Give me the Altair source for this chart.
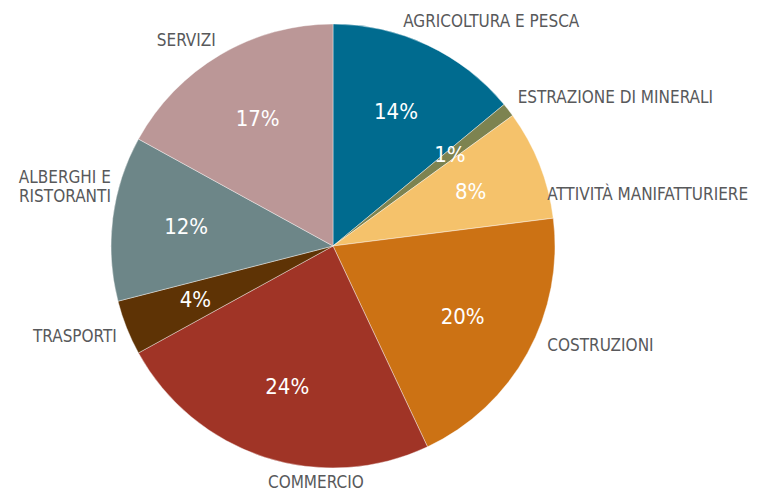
import altair as alt
import pandas as pd

categories = ["AGRICOLTURA E PESCA", "ESTRAZIONE DI MINERALI", "ATTIVITÀ MANIFATTURIERE",
              "COSTRUZIONI", "COMMERCIO", "TRASPORTI", "ALBERGHI E\nRISTORANTI", "SERVIZI"]
values = [14, 1, 8, 20, 24, 4, 12, 17]
colors = ["#006b8f", "#7d8350", "#f5c26b", "#cc7214", "#a03426", "#5e3305", "#6d8688", "#bb9797"]

df = pd.DataFrame({
    "cat": categories,
    "val": values,
    "order": list(range(len(categories))),
    "pct": [f"{v}%" for v in values],
})

FONT = "DejaVu Sans Condensed, Liberation Sans Narrow, Roboto Condensed, Noto Sans, sans-serif"
CX, CY = 325, 238
TSCALE = alt.Scale(domain=[0, 100])

pie = alt.Chart(df).mark_arc(outerRadius=222, stroke="#ffffff", strokeWidth=0.4).encode(
    theta=alt.Theta("val:Q", stack=True, scale=TSCALE),
    order=alt.Order("order:Q"),
    color=alt.Color("cat:N", scale=alt.Scale(domain=categories, range=colors), legend=None),
    x=alt.value(CX),
    y=alt.value(CY),
)

lab = alt.Chart(df).transform_window(
    cum="sum(val)", sort=[alt.SortField("order")], frame=[None, 0]
).transform_calculate(mid="datum.cum - datum.val / 2")

pct = lab.mark_text(radius=148, font=FONT, fontSize=22, color="white",
                    align="center", baseline="middle").encode(
    theta=alt.Theta("mid:Q", scale=TSCALE),
    text="pct:N",
    x=alt.value(CX),
    y=alt.value(CY),
)

# outer label tweaks (style only: alignment and nudges)
label_style = {
    "AGRICOLTURA E PESCA": dict(align="left", dx=-32, dy=-7),
    "ESTRAZIONE DI MINERALI": dict(align="left", dx=-5, dy=-1),
    "ATTIVITÀ MANIFATTURIERE": dict(align="left", dx=-9, dy=37),
    "COSTRUZIONI": dict(align="left", dx=4, dy=-16),
    "COMMERCIO": dict(align="center", dx=57, dy=9),
    "TRASPORTI": dict(align="right", dx=7, dy=3),
    "ALBERGHI E\nRISTORANTI": dict(align="right", dx=16, dy=-38),
    "SERVIZI": dict(align="right", dx=5, dy=2),
}

layers = [pie, pct]
for cat in categories:
    st = label_style[cat]
    layers.append(
        lab.transform_filter(alt.datum.cat == cat).mark_text(
            radius=240, font=FONT, fontSize=17, color="#58595b", baseline="middle",
            lineBreak="\n", lineHeight=19, **st
        ).encode(
            theta=alt.Theta("mid:Q", scale=TSCALE),
            text="cat:N",
            x=alt.value(CX),
            y=alt.value(CY),
        )
    )

chart = alt.layer(*layers).properties(
    width=744, height=484, autosize=alt.AutoSizeParams(type="none"), padding=0
).configure_view(stroke=None)

chart.save("out.html", embed_options={"renderer": "svg", "actions": False})
